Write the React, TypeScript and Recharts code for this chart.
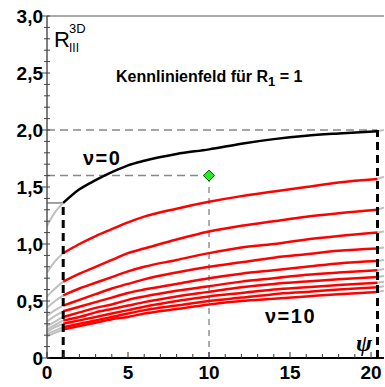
import React from "react";
import {
  ComposedChart,
  Line,
  XAxis,
  YAxis,
  ReferenceLine,
  ReferenceDot,
} from "recharts";

// ψ positions of the sampled points (the right boundary sits at ψ ≈ 20.4)
const PSI = [1, 2, 3, 4, 5, 6, 8, 10, 12, 14, 16, 18, 20.4];
const PSI_LEFT = [0, 0.5, 1];
const PSI_RIGHT = [20.4, 20.8];

// ν = 0 (black)
const NU_0 = [1.36, 1.48, 1.56, 1.63, 1.69, 1.73, 1.79, 1.83, 1.88, 1.92, 1.95, 1.97, 1.99];

// ν = 1 … 10 (red)
const NU_1 = [0.92, 1.0, 1.07, 1.13, 1.19, 1.24, 1.31, 1.37, 1.42, 1.46, 1.5, 1.54, 1.57];
const NU_2 = [0.67, 0.74, 0.8, 0.86, 0.92, 0.96, 1.04, 1.11, 1.16, 1.2, 1.24, 1.27, 1.3];
const NU_3 = [0.55, 0.61, 0.66, 0.71, 0.76, 0.8, 0.86, 0.92, 0.97, 1.0, 1.04, 1.07, 1.1];
const NU_4 = [0.46, 0.51, 0.56, 0.61, 0.65, 0.69, 0.75, 0.8, 0.84, 0.88, 0.91, 0.94, 0.96];
const NU_5 = [0.41, 0.45, 0.49, 0.53, 0.57, 0.6, 0.65, 0.7, 0.74, 0.77, 0.8, 0.83, 0.85];
const NU_6 = [0.36, 0.4, 0.44, 0.47, 0.51, 0.54, 0.59, 0.63, 0.67, 0.7, 0.73, 0.75, 0.77];
const NU_7 = [0.33, 0.36, 0.4, 0.43, 0.46, 0.49, 0.54, 0.58, 0.62, 0.65, 0.67, 0.69, 0.71];
const NU_8 = [0.3, 0.33, 0.36, 0.39, 0.42, 0.45, 0.5, 0.54, 0.57, 0.6, 0.62, 0.64, 0.66];
const NU_9 = [0.27, 0.3, 0.33, 0.36, 0.39, 0.42, 0.46, 0.5, 0.53, 0.56, 0.58, 0.6, 0.62];
const NU_10 = [0.25, 0.28, 0.31, 0.34, 0.36, 0.39, 0.43, 0.47, 0.5, 0.52, 0.54, 0.56, 0.58];

const RED_CURVES = [NU_1, NU_2, NU_3, NU_4, NU_5, NU_6, NU_7, NU_8, NU_9, NU_10];

// grey continuation for 0 ≤ ψ ≤ 1 (ν = 0 first, then ν = 1 … 10)
const LEFT_EXT = [
  [1.16, 1.28, 1.36],
  [0.75, 0.85, 0.92],
  [0.54, 0.61, 0.67],
  [0.44, 0.5, 0.55],
  [0.37, 0.42, 0.46],
  [0.32, 0.37, 0.41],
  [0.28, 0.32, 0.36],
  [0.25, 0.29, 0.33],
  [0.23, 0.27, 0.3],
  [0.21, 0.24, 0.27],
  [0.19, 0.22, 0.25],
];

// grey stub to the right of the boundary
const RIGHT_EXT = [
  [1.99, 2.0],
  [1.57, 1.59],
  [1.3, 1.32],
  [1.1, 1.11],
  [0.96, 0.97],
  [0.85, 0.86],
  [0.77, 0.78],
  [0.71, 0.72],
  [0.66, 0.67],
  [0.62, 0.63],
  [0.58, 0.59],
];

const X_TICKS = [0, 1, 2, 3, 4, 5, 6, 7, 8, 9, 10, 11, 12, 13, 14, 15, 16, 17, 18, 19, 20];
const Y_TICKS = Array.from({ length: 31 }, (_, i) => i / 10);

const POINT = { x: 10, y: 1.6 };
const PSI_START = 1;
const PSI_END = 20.4;

const toRows = (xs: number[], ys: number[]) => xs.map((x, i) => ({ x, v: ys[i] }));

const FONT = "'Liberation Sans', Arial, sans-serif";

const XTick = ({ x, y, payload }: any) => {
  const major = payload.value % 5 === 0;
  return (
    <g>
      <line x1={x} x2={x} y1={y} y2={y - (major ? 6 : 4)} stroke="#333" strokeWidth={1} />
      {major && (
        <text x={x} y={y + 21} textAnchor="middle" fontFamily={FONT} fontWeight="bold" fontSize={19} fill="#000">
          {payload.value}
        </text>
      )}
    </g>
  );
};

const YTick = ({ x, y, payload }: any) => {
  const v = payload.value as number;
  const major = Math.round(v * 10) % 5 === 0;
  const label = v === 0 ? "0" : v.toFixed(1).replace(".", ",");
  return (
    <g>
      <line x1={x - (major ? 5 : 3)} x2={x + 3} y1={y} y2={y} stroke="#444" strokeWidth={1} />
      {major && (
        <text x={x - 4} y={y + 7} textAnchor="end" fontFamily={FONT} fontWeight="bold" fontSize={19} fill="#000">
          {label}
        </text>
      )}
    </g>
  );
};

const Diamond = ({ cx, cy }: any) => (
  <polygon
    points={`${cx},${cy - 5.5} ${cx + 5.5},${cy} ${cx},${cy + 5.5} ${cx - 5.5},${cy}`}
    fill="#22ee22"
    stroke="#0b4d0b"
    strokeWidth={1}
  />
);

const App = () => {
  const allCurves = [NU_0, ...RED_CURVES];
  return (
    <div style={{ position: "absolute", left: 0, top: 0, width: 385, height: 387, background: "#fff" }}>
      <ComposedChart width={385} height={387} margin={{ top: 16, right: 1, bottom: 0, left: 0 }}>
        <XAxis
          dataKey="x"
          type="number"
          domain={[0, 20.8]}
          ticks={X_TICKS}
          interval={0}
          height={29}
          tickSize={0}
          tickMargin={0}
          tick={<XTick />}
          axisLine={{ stroke: "#000", strokeWidth: 2 }}
          allowDataOverflow
        />
        <YAxis
          type="number"
          domain={[0, 3]}
          ticks={Y_TICKS}
          interval={0}
          width={47}
          tickSize={0}
          tickMargin={0}
          tick={<YTick />}
          axisLine={{ stroke: "#555", strokeWidth: 1.5 }}
          allowDataOverflow
        />
        <ReferenceLine y={3} stroke="#555" strokeWidth={1} />
        <ReferenceLine
          segment={[{ x: 0, y: 2 }, { x: PSI_END, y: 2 }]}
          stroke="#888"
          strokeWidth={1.5}
          strokeDasharray="8 5"
        />
        <ReferenceLine
          segment={[{ x: 0, y: POINT.y }, { x: POINT.x, y: POINT.y }]}
          stroke="#888"
          strokeWidth={1.5}
          strokeDasharray="8 5"
        />
        <ReferenceLine
          segment={[{ x: POINT.x, y: 0 }, { x: POINT.x, y: POINT.y }]}
          stroke="#777"
          strokeWidth={1.2}
          strokeDasharray="6 5"
        />
        <ReferenceLine
          segment={[{ x: 0, y: NU_0[0] }, { x: PSI_START, y: NU_0[0] }]}
          stroke="#444"
          strokeWidth={1}
        />
        {allCurves.map((c, i) => (
          <Line
            key={`l-${i}`}
            data={toRows(PSI_LEFT, LEFT_EXT[i])}
            dataKey="v"
            type="monotone"
            stroke="#c0c0c0"
            strokeWidth={2}
            dot={false}
            isAnimationActive={false}
          />
        ))}
        {allCurves.map((c, i) => (
          <Line
            key={`r-${i}`}
            data={toRows(PSI_RIGHT, RIGHT_EXT[i])}
            dataKey="v"
            type="linear"
            stroke="#c0c0c0"
            strokeWidth={2}
            dot={false}
            isAnimationActive={false}
          />
        ))}
        {RED_CURVES.map((c, i) => (
          <Line
            key={`nu-${i + 1}`}
            data={toRows(PSI, c)}
            dataKey="v"
            type="monotone"
            stroke="#ff0000"
            strokeWidth={2.5}
            dot={false}
            isAnimationActive={false}
          />
        ))}
        <Line
          data={toRows(PSI, NU_0)}
          dataKey="v"
          type="monotone"
          stroke="#000"
          strokeWidth={2.5}
          dot={false}
          isAnimationActive={false}
        />
        <ReferenceLine
          segment={[{ x: PSI_START, y: 0 }, { x: PSI_START, y: NU_0[0] }]}
          stroke="#000"
          strokeWidth={3}
          strokeDasharray="8 5"
        />
        <ReferenceLine
          segment={[{ x: PSI_END, y: 0 }, { x: PSI_END, y: 2 }]}
          stroke="#000"
          strokeWidth={3}
          strokeDasharray="8 5"
        />
        <ReferenceDot x={POINT.x} y={POINT.y} r={6} shape={<Diamond />} />
      </ComposedChart>
      <svg
        width={385}
        height={387}
        style={{ position: "absolute", left: 0, top: 0, pointerEvents: "none" }}
      >
        <text x={54} y={47} fontFamily={FONT} fontSize={22} fill="#000">R</text>
        <text x={69} y={33} fontFamily={FONT} fontSize={13} fill="#000">3D</text>
        <text x={69} y={52} fontFamily={FONT} fontSize={12} fill="#000">III</text>
        <text x={116} y={82} fontFamily={FONT} fontWeight="bold" fontSize={16} fill="#000">
          Kennlinienfeld für R
          <tspan dy={4} fontSize={13}>1</tspan>
          <tspan dy={-4}> = 1</tspan>
        </text>
        <text x={83} y={165} fontFamily={FONT} fontWeight="bold" fontSize={20} letterSpacing={1.5} fill="#000">ν=0</text>
        <text x={265} y={323} fontFamily={FONT} fontWeight="bold" fontSize={20} letterSpacing={1.5} fill="#000">ν=10</text>
        <text x={356} y={351} fontFamily="'Liberation Serif', serif" fontStyle="italic" fontWeight="bold" fontSize={24} fill="#000">ψ</text>
      </svg>
    </div>
  );
};

export default App;
